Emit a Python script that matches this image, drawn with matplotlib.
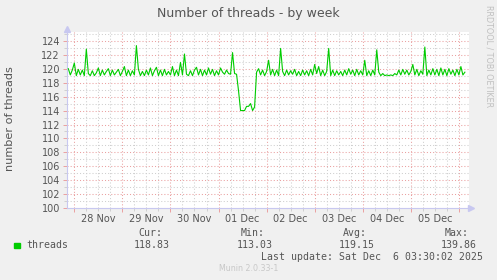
import numpy as np
import pandas as pd
import matplotlib
matplotlib.use('Agg')
import matplotlib.pyplot as plt
import matplotlib.dates as mdates

# hourly samples, starting 27 Nov 21:00
start = '2025-11-27 21:00'
threads = [
    120.0, 119.1, 119.8,
    # 28 Nov
    120.8, 119.0, 119.9, 119.1, 119.8, 119.0, 122.8, 119.3, 119.0, 119.7, 119.0, 119.4,
    120.1, 119.0, 119.8, 119.1, 119.6, 120.0, 119.0, 119.8, 119.1, 119.5, 119.9, 119.0,
    # 29 Nov
    119.6, 120.3, 119.0, 119.8, 119.0, 119.7, 119.1, 123.3, 119.9, 119.0, 119.6, 119.0,
    119.8, 119.1, 120.1, 119.0, 119.7, 120.2, 119.0, 119.8, 119.0, 119.9, 119.1, 119.6,
    # 30 Nov
    119.1, 120.3, 119.0, 119.8, 119.0, 120.9, 119.1, 122.1, 119.2, 119.0, 119.7, 119.0,
    119.8, 120.2, 119.1, 119.9, 119.0, 119.8, 119.1, 120.1, 119.2, 119.9, 119.0, 119.7,
    # 01 Dec
    119.1, 120.1, 119.5, 119.2, 119.8, 119.3, 119.2, 122.3, 119.3, 119.2, 116.8, 114.0,
    114.0, 114.0, 114.6, 114.6, 115.0, 114.0, 114.5, 119.5, 120.0, 119.1, 119.8, 119.0,
    # 02 Dec
    119.6, 121.2, 119.1, 119.9, 119.0, 119.8, 119.0, 122.9, 119.6, 119.0, 119.8, 119.1,
    119.7, 119.2, 119.9, 119.0, 119.6, 119.0, 119.8, 119.1, 119.7, 119.0, 119.9, 119.1,
    # 03 Dec
    120.6, 119.3, 120.3, 119.0, 119.8, 119.0, 119.6, 122.9, 119.0, 119.8, 119.0, 119.7,
    119.1, 119.6, 119.0, 119.8, 119.1, 120.0, 119.2, 119.8, 119.0, 119.9, 119.1, 119.7,
    # 04 Dec
    119.1, 121.2, 119.0, 119.7, 119.0, 119.8, 119.1, 122.7, 119.5, 119.0, 119.3, 119.0,
    119.1, 119.0, 119.1, 119.0, 119.3, 119.1, 119.8, 119.1, 119.9, 119.2, 119.8, 119.1,
    # 05 Dec
    119.6, 120.6, 119.1, 119.9, 119.0, 119.7, 119.2, 123.1, 119.0, 119.8, 119.1, 120.0,
    119.1, 119.9, 119.0, 120.1, 119.1, 119.9, 119.0, 120.0, 119.2, 119.8, 119.0, 119.9,
    # 06 Dec
    119.1, 120.3, 119.1, 119.5,
]
times = pd.date_range(start, periods=len(threads), freq='h')

stat_names = ['Cur:', 'Min:', 'Avg:', 'Max:']
stat_values = ['118.83', '113.03', '119.15', '139.86']
stat_x = [170, 273, 375, 477]

W, H = 497, 280
txt = '#555555'
red = '#eaa0a0'
grey = '#cfcfcf'
axis_col = '#c8c8f0'


def fx(x):
    return x / W


def fy(y):
    return 1 - y / H


fig = plt.figure(figsize=(W / 100, H / 100), dpi=100, facecolor='#f0f0f0')
ax = fig.add_axes([fx(67), fy(208.3), fx(468.5) - fx(67), fy(32) - fy(208.3)])
ax.set_facecolor('white')

ax.plot(times, threads, color='#00cc00', lw=0.8, zorder=3)

ax.set_ylim(100, 125.25)
ax.set_xlim(pd.Timestamp('2025-11-27 20:21'), pd.Timestamp('2025-12-06 04:48'))

ax.set_yticks(np.arange(100, 125, 2))
ax.set_yticks(np.arange(101, 126, 2), minor=True)
ax.xaxis.set_major_locator(mdates.DayLocator())
ax.xaxis.set_minor_locator(mdates.HourLocator(byhour=[0, 6, 12, 18]))
ax.xaxis.set_major_formatter(plt.NullFormatter())

ax.grid(True, which='major', color=red, lw=0.75, linestyle=(0, (1, 2)))
ax.grid(True, which='minor', color=grey, lw=0.75, linestyle=(0, (1, 2)))
ax.set_axisbelow(True)

ax.tick_params(axis='y', which='major', length=3, width=0.7, color=red,
               labelsize=7, labelcolor=txt, pad=2)
ax.tick_params(axis='y', which='minor', length=2, width=0.7, color=grey)
ax.tick_params(axis='x', which='major', length=3, width=0.7, color=red)
ax.tick_params(axis='x', which='minor', length=2, width=0.7, color=grey)

# day labels at noon
sec = ax.secondary_xaxis('bottom')
sec.xaxis.set_major_locator(mdates.HourLocator(byhour=12))
sec.xaxis.set_major_formatter(mdates.DateFormatter('%d %b'))
sec.tick_params(length=0, labelsize=7, labelcolor=txt, pad=4)
sec.spines['bottom'].set_visible(False)

for s in ['top', 'right']:
    ax.spines[s].set_visible(False)
for s in ['left', 'bottom']:
    ax.spines[s].set_color(axis_col)
    ax.spines[s].set_linewidth(0.8)
ax.plot([0], [1.015], marker='^', ms=4, color=axis_col, transform=ax.transAxes, clip_on=False)
ax.plot([1.005], [0], marker='>', ms=4, color=axis_col, transform=ax.transAxes, clip_on=False)

fig.text(fx(248.3), fy(13), 'Number of threads - by week', ha='center', va='center',
         fontsize=9, color=txt)
fig.text(fx(10), fy(119), 'number of threads', rotation=90, ha='center', va='center',
         fontsize=8.1, color=txt)
fig.text(fx(489), fy(56), 'RRDTOOL / TOBI OETIKER', rotation=270, ha='center', va='center',
         fontsize=5.8, color='#c0c0c0')

mono = 'DejaVu Sans Mono'
fig.patches.append(plt.Rectangle((fx(14), fy(247.7)), fx(6), fy(0) - fy(5),
                                 transform=fig.transFigure, color='#00cc00'))
fig.text(fx(26.7), fy(245.5), 'threads', ha='left', va='center', fontsize=7.1,
         family=mono, color=txt)
for name, val, x in zip(stat_names, stat_values, stat_x):
    fig.text(fx(x - 8), fy(233.3), name, ha='right', va='center', fontsize=7.1,
             family=mono, color=txt)
    fig.text(fx(x), fy(245.5), val, ha='right', va='center', fontsize=7.1,
             family=mono, color=txt)
fig.text(fx(483.3), fy(257.3), 'Last update: Sat Dec  6 03:30:02 2025', ha='right',
         va='center', fontsize=7.1, family=mono, color=txt)
fig.text(fx(248.3), fy(268.7), 'Munin 2.0.33-1', ha='center', va='center',
         fontsize=5.7, color='#c8c8c8')

fig.savefig('out.png', dpi=100, facecolor=fig.get_facecolor())
